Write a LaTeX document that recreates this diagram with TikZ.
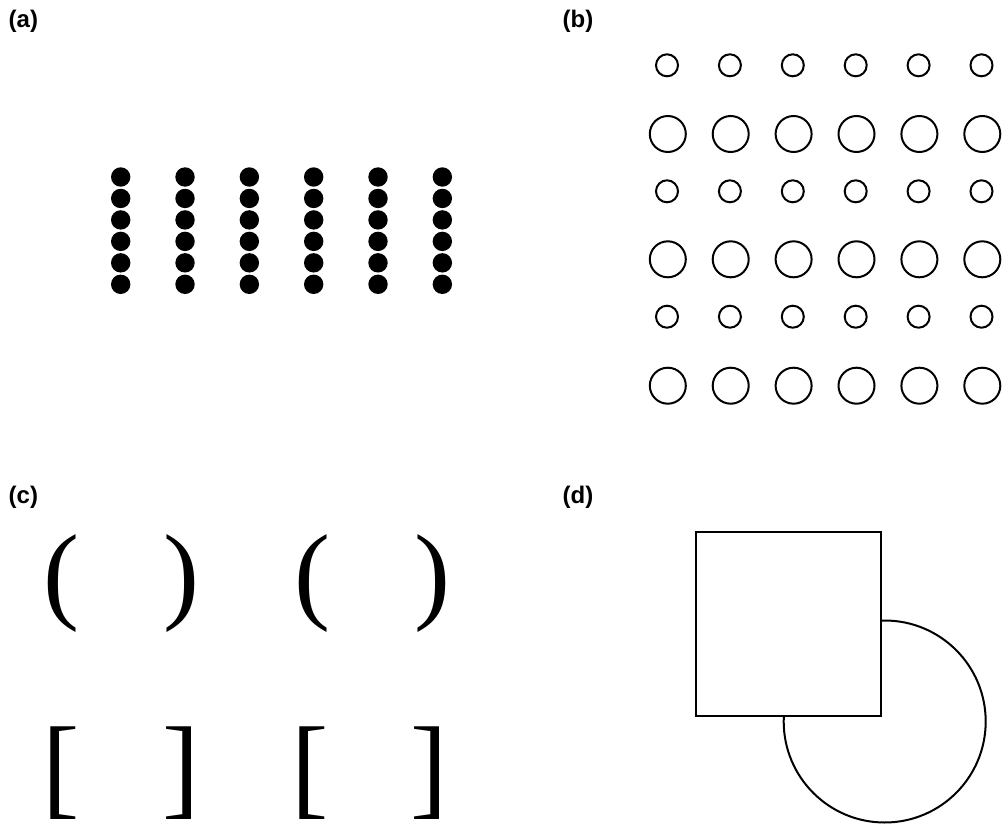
\documentclass[tikz,border=0pt]{standalone}
\usepackage{fontspec}
\setmainfont{Liberation Serif}
\newfontfamily\labelfont{Liberation Sans}
\begin{document}
\begin{tikzpicture}[x=1pt,y=-1pt,
  panellabel/.style={anchor=base west,inner sep=0pt,font=\labelfont\bfseries\fontsize{24}{28}\selectfont},
  glyph/.style={inner sep=0pt,anchor=center,font=\fontsize{108}{120}\selectfont},
  bglyph/.style={inner sep=0pt,anchor=center,font=\fontsize{112}{120}\selectfont},
  ring/.style={draw=black,line width=2pt},
  outline/.style={draw=black,line width=2pt}]
\useasboundingbox[fill=white] (0,0) rectangle (1007,824);
% labels
\node[panellabel] (la) at (8.5,28) {(a)};
\node[panellabel] (lb) at (562.5,28) {(b)};
\node[panellabel] (lc) at (8.5,503) {(c)};
\node[panellabel] (ld) at (562.5,503) {(d)};
% (a) dots
\foreach \i in {0,...,5}{
  \foreach \j in {0,...,5}{
    \fill[black] ({120.7+64.33*\i},{177+21.46*\j}) circle (9.7);
  }
}
% (b) rings
\foreach \i in {0,...,5}{
  \foreach \yy in {65.3,191.3,316.7}{
    \draw[ring] ({667+62.9*\i},\yy) circle (11);
  }
  \foreach \yy in {134,259.3,385.7}{
    \draw[ring] ({667.8+62.9*\i},\yy) circle (18);
  }
}
% (c) glyphs
\node[glyph] (p1) at (61,584) {(};
\node[glyph] (p2) at (181.3,584) {)};
\node[glyph] (p3) at (312.7,584) {(};
\node[glyph] (p4) at (432.8,584) {)};
\node[bglyph] (b1) at (61,773) {[};
\node[bglyph] (b2) at (181.3,773) {]};
\node[bglyph] (b3) at (310,773) {[};
\node[bglyph] (b4) at (429.5,773) {]};
% (d)
\draw[outline] (884.7,721.5) circle (101);
\draw[outline,fill=white] (696,532) rectangle (881,716);
\end{tikzpicture}
\end{document}
